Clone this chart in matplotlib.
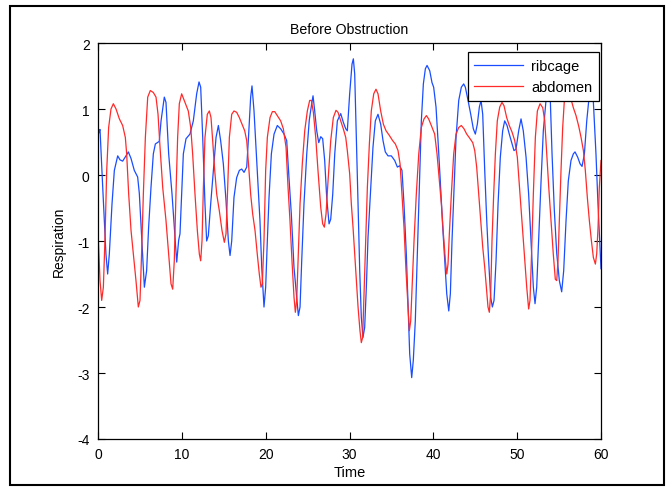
import matplotlib
matplotlib.use('Agg')
import matplotlib.pyplot as plt
from matplotlib.patches import Rectangle

# ribcage (blue)
rib_t = [0.0, 0.16, 0.24, 0.56, 0.95, 1.15, 1.35, 1.67, 1.95, 2.35, 2.62, 2.94, 3.34, 3.62, 3.94,
         4.33, 4.73, 4.93, 5.21, 5.53, 5.8, 6.04, 6.32, 6.6, 6.84, 7.31, 7.52, 7.91, 8.11, 8.43,
         8.83, 9.22, 9.39, 9.62, 9.78, 10.18, 10.5, 10.97, 11.37, 11.77, 12.05, 12.25, 12.49, 12.76,
         12.96, 13.16, 13.44, 13.76, 14.08, 14.36, 14.63, 14.95, 15.27, 15.55, 15.75, 15.95, 16.22,
         16.54, 16.86, 17.14, 17.42, 17.74, 17.93, 18.21, 18.37, 18.61, 19.0, 19.32, 19.53, 19.8,
         20.0, 20.2, 20.4, 20.68, 21.0, 21.39, 21.79, 22.19, 22.51, 22.78, 23.06, 23.38, 23.66, 23.9,
         24.1, 24.3, 24.57, 24.9, 25.2, 25.49, 25.65, 25.85, 26.09, 26.33, 26.57, 26.8, 27.04, 27.28,
         27.56, 27.76, 28.0, 28.24, 28.55, 28.95, 29.26, 29.55, 29.74, 30.02, 30.3, 30.46, 30.62,
         30.82, 31.02, 31.22, 31.41, 31.61, 31.81, 32.01, 32.21, 32.53, 32.8, 33.08, 33.4, 33.72,
         34.0, 34.27, 34.59, 34.99, 35.39, 35.71, 35.99, 36.26, 36.5, 36.78, 36.98, 37.18, 37.42,
         37.61, 37.85, 38.09, 38.33, 38.57, 38.81, 39.05, 39.25, 39.57, 39.84, 40.04, 40.32, 40.56,
         40.83, 41.12, 41.36, 41.6, 41.84, 42.03, 42.23, 42.47, 42.71, 43.03, 43.34, 43.62, 43.82,
         44.14, 44.46, 44.77, 45.01, 45.25, 45.49, 45.69, 45.89, 46.13, 46.37, 46.6, 46.84, 47.04,
         47.24, 47.48, 47.72, 47.99, 48.27, 48.51, 48.79, 49.06, 49.39, 49.62, 49.86, 50.18, 50.46,
         50.73, 51.06, 51.37, 51.65, 51.93, 52.13, 52.33, 52.57, 52.85, 53.12, 53.44, 53.75, 53.95,
         54.16, 54.43, 54.72, 55.03, 55.31, 55.55, 55.83, 56.1, 56.42, 56.7, 56.9, 57.22, 57.5,
         57.74, 58.02, 58.3, 58.54, 58.8, 59.08, 59.4, 59.64, 59.88, 60.0]
rib_y = [0.6, 0.67, 0.69, -0.18, -1.2, -1.5, -1.2, -0.44, 0.07, 0.29, 0.23, 0.21, 0.29, 0.35, 0.25,
         0.07, -0.03, -0.28, -0.94, -1.7, -1.45, -0.79, -0.19, 0.32, 0.47, 0.51, 0.82, 1.18, 1.1, 0.32,
         -0.29, -1.0, -1.32, -0.99, -0.89, 0.32, 0.55, 0.62, 0.82, 1.23, 1.41, 1.33, 0.57, -0.44,
         -1.0, -0.92, -0.44, 0.07, 0.57, 0.75, 0.52, 0.17, -0.39, -1.0, -1.22, -1.0, -0.34,
         -0.04, 0.07, 0.09, 0.04, 0.12, 0.52, 1.18, 1.35, 0.97, 0.07, -0.69, -1.4, -2.0,
         -1.7, -0.99, -0.34, 0.32, 0.62, 0.75, 0.7, 0.62, 0.52, -0.04, -0.59, -1.4, -1.8, -2.13,
         -2.0, -1.3, -0.44, 0.32, 0.83, 1.08, 1.2, 0.97, 0.67, 0.49, 0.58, 0.55, 0.22, -0.34,
         -0.74, -0.67, -0.29, 0.32, 0.82, 0.93, 0.8, 0.7, 0.67, 1.23, 1.68, 1.76, 1.53,
         0.57, -0.44, -1.45, -2.16, -2.46, -2.31, -1.7, -0.94, -0.19, 0.42, 0.82, 0.92, 0.77,
         0.52, 0.35, 0.29, 0.29, 0.22, 0.12, 0.14, 0.07, -0.44, -1.2, -1.95, -2.71, -3.07,
         -2.81, -2.21, -1.2, -0.19, 0.82, 1.38, 1.61, 1.66, 1.58, 1.4, 1.33, 1.03, 0.52,
         -0.09, -0.79, -1.3, -1.8, -2.06, -1.8, -0.99, -0.19, 0.57, 1.13, 1.33, 1.38, 1.33,
         1.13, 0.92, 0.7, 0.62, 0.77, 1.03, 1.13, 0.92, 0.07, -0.69, -1.3, -1.85, -2.0,
         -1.9, -1.3, -0.44, 0.27, 0.67, 0.82, 0.75, 0.62, 0.47, 0.37, 0.39, 0.67, 0.85,
         0.67, 0.27, -0.29, -0.99, -1.7, -1.95, -1.7, -0.94, -0.09, 0.67, 1.13, 1.45, 1.15,
         0.32, -0.53, -1.19, -1.6, -1.77, -1.45, -0.69, -0.09, 0.22, 0.32, 0.35, 0.27, 0.17,
         0.13, 0.32, 0.82, 1.13, 1.4, 1.13, 0.32, -0.44, -1.09, -1.42]

# abdomen (red)
abd_t = [0.0, 0.24, 0.44, 0.64, 0.84, 1.04, 1.27, 1.55, 1.83, 2.15, 2.55, 2.94, 3.26, 3.42, 3.66,
         3.94, 4.22, 4.53, 4.81, 5.01, 5.17, 5.41, 5.65, 5.93, 6.24, 6.6, 6.92, 7.16, 7.4, 7.72,
         8.11, 8.43, 8.71, 8.91, 9.1, 9.3, 9.5, 9.7, 9.98, 10.38, 10.77, 11.06, 11.29, 11.57, 11.85,
         12.09, 12.25, 12.41, 12.57, 12.76, 13.04, 13.28, 13.48, 13.68, 13.92, 14.16, 14.47, 14.79,
         15.07, 15.27, 15.47, 15.67, 15.95, 16.22, 16.54, 16.86, 17.18, 17.5, 17.74, 17.98, 18.21,
         18.45, 18.73, 19.0, 19.24, 19.44, 19.6, 19.8, 20.0, 20.2, 20.52, 20.8, 21.08, 21.39, 21.79,
         22.11, 22.43, 22.67, 22.9, 23.14, 23.38, 23.54, 23.7, 23.86, 24.1, 24.37, 24.66, 24.97,
         25.25, 25.45, 25.69, 25.97, 26.24, 26.57, 26.8, 27.0, 27.2, 27.44, 27.76, 28.07, 28.39,
         28.63, 28.95, 29.26, 29.55, 29.74, 30.02, 30.22, 30.42, 30.62, 30.82, 31.02, 31.25, 31.41,
         31.57, 31.73, 31.93, 32.13, 32.37, 32.6, 32.89, 33.16, 33.4, 33.72, 34.04, 34.36, 34.75,
         35.15, 35.47, 35.79, 36.03, 36.26, 36.5, 36.74, 36.98, 37.14, 37.3, 37.5, 37.7, 37.97,
         38.26, 38.57, 38.89, 39.17, 39.44, 39.76, 40.16, 40.44, 40.72, 40.96, 41.2, 41.44, 41.6,
         41.75, 41.91, 42.15, 42.43, 42.71, 43.03, 43.34, 43.66, 43.98, 44.38, 44.7, 44.94, 45.17,
         45.41, 45.65, 45.89, 46.13, 46.33, 46.52, 46.68, 46.84, 47.0, 47.2, 47.4, 47.63, 47.92,
         48.19, 48.43, 48.75, 49.06, 49.39, 49.71, 50.02, 50.34, 50.58, 50.85, 51.14, 51.37, 51.53,
         51.69, 51.93, 52.17, 52.41, 52.73, 53.05, 53.29, 53.53, 53.77, 54.04, 54.31, 54.55, 54.72,
         54.87, 55.03, 55.23, 55.43, 55.63, 55.95, 56.42, 56.7, 57.02, 57.34, 57.62, 57.9, 58.13,
         58.37, 58.61, 58.85, 59.09, 59.33, 59.49, 59.65, 59.8, 60.0]
abd_y = [-0.85, -1.6, -1.9, -1.7, -0.94, 0.07, 0.72, 1.0, 1.08, 1.0, 0.85, 0.75, 0.57, 0.32, -0.29,
         -0.84, -1.2, -1.6, -2.0, -1.9, -1.3, -0.29, 0.57, 1.18, 1.28, 1.25, 1.18, 0.92, 0.42, -0.19,
         -0.69, -1.2, -1.65, -1.73, -1.3, -0.29, 0.57, 1.08, 1.23, 1.1, 0.97, 0.72, 0.32, -0.29, -0.84,
         -1.2, -1.3, -0.99, -0.19, 0.57, 0.92, 0.97, 0.87, 0.52, 0.07, -0.29, -0.54, -0.84,
         -1.02, -0.89, -0.19, 0.57, 0.92, 0.97, 0.95, 0.87, 0.77, 0.67, 0.52, 0.12, -0.29,
         -0.59, -0.84, -1.2, -1.5, -1.7, -1.65, -0.99, 0.07, 0.57, 0.87, 0.96, 0.96, 0.9, 0.82,
         0.7, 0.42, -0.19, -0.69, -1.3, -1.85, -2.08, -1.9, -1.3, -0.44, 0.17, 0.67, 0.97,
         1.13, 1.13, 0.95, 0.57, 0.07, -0.49, -0.74, -0.79, -0.59, -0.09, 0.52, 0.87, 0.98,
         0.95, 0.82, 0.7, 0.57, 0.37, 0.02, -0.44, -0.79, -1.2, -1.6, -2.0, -2.36, -2.54,
         -2.46, -1.8, -0.94, -0.19, 0.47, 0.97, 1.23, 1.3, 1.23, 0.97, 0.77, 0.67, 0.6,
         0.52, 0.47, 0.37, 0.17, -0.29, -0.79, -1.45, -2.0, -2.36, -2.21, -1.6, -0.99, -0.29,
         0.32, 0.72, 0.85, 0.9, 0.85, 0.75, 0.62, 0.32, -0.09, -0.44, -0.89, -1.3, -1.5,
         -1.35, -0.89, -0.29, 0.32, 0.62, 0.72, 0.75, 0.7, 0.62, 0.55, 0.49, 0.37, 0.12,
         -0.29, -0.69, -1.09, -1.4, -1.7, -2.0, -2.08, -1.8, -0.99, -0.29, 0.32, 0.82, 1.03,
         1.1, 1.05, 0.87, 0.75, 0.65, 0.52, 0.27, -0.29, -0.69, -1.2, -1.7, -2.03, -1.9,
         -1.3, -0.29, 0.57, 0.97, 1.08, 1.02, 0.82, 0.32, -0.19, -0.69, -1.2, -1.58, -1.6,
         -1.3, -0.69, 0.07, 0.72, 1.13, 1.22, 1.15, 1.02, 0.9, 0.74, 0.57, 0.37, 0.07,
         -0.34, -0.69, -0.99, -1.25, -1.35, -1.19, -0.79, -0.19, 0.22]

x_ticks = [0, 10, 20, 30, 40, 50, 60]
y_ticks = [-4, -3, -2, -1, 0, 1, 2]

plt.rcParams['font.family'] = ['Liberation Sans', 'DejaVu Sans']
plt.rcParams['axes.unicode_minus'] = False

fig = plt.figure(figsize=(6.68, 4.89), dpi=100)
ax = fig.add_axes([98 / 668, 49 / 489, 503 / 668, 396 / 489])

ax.plot(rib_t, rib_y, color='#1a4dff', linewidth=0.9, label='ribcage')
ax.plot(abd_t, abd_y, color='#ff2a2a', linewidth=0.9, label='abdomen')

ax.set_xlim(0, 60)
ax.set_ylim(-4, 2)
ax.set_xticks(x_ticks)
ax.set_yticks(y_ticks)
ax.tick_params(direction='in', top=True, right=True, length=5, width=0.8, pad=6, labelsize=10)
for s in ax.spines.values():
    s.set_linewidth(0.9)

ax.set_title('Before Obstruction', fontsize=10.2, pad=7)
ax.set_xlabel('Time', fontsize=10.5, labelpad=3)
ax.set_ylabel('Respiration', fontsize=10, labelpad=8)

leg = ax.legend(loc='upper right', bbox_to_anchor=(0.996, 0.977), borderaxespad=0,
                fancybox=False, framealpha=1, edgecolor='black', fontsize=10.5,
                handlelength=3.3, handletextpad=0.6, labelspacing=0.5, borderpad=0.45)
leg.get_frame().set_linewidth(0.9)

# outer box around the whole figure
fig.patches.append(Rectangle((10 / 668, 3 / 489), 654 / 668, 479 / 489, transform=fig.transFigure,
                             fill=False, edgecolor='black', linewidth=1.5))

fig.savefig('out.png', dpi=100)
